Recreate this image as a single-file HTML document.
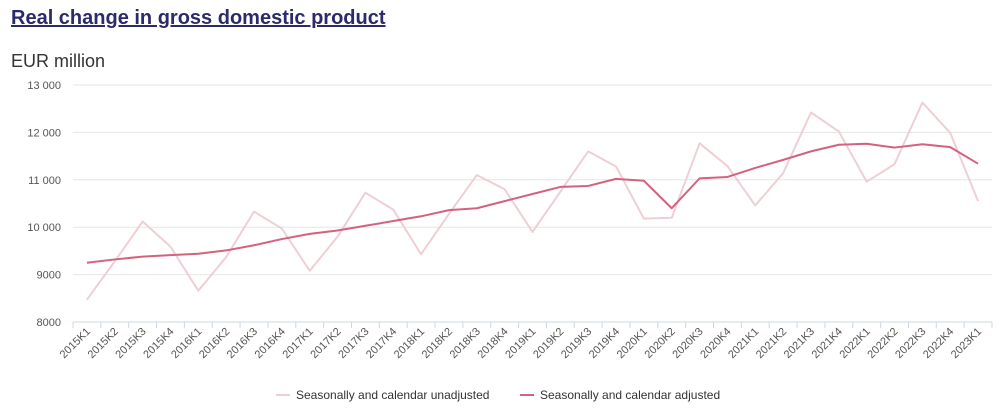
<!DOCTYPE html>
<html><head><meta charset="utf-8"><style>
body{margin:0;background:#fff;font-family:"Liberation Sans",sans-serif;}
#wrap{position:relative;width:1004px;height:417px;overflow:hidden;}
h1{position:absolute;left:11px;top:7px;margin:0;font-size:20px;font-weight:bold;color:#2b2a6b;text-decoration:underline;}
.unit{position:absolute;left:11px;top:51px;font-size:18px;color:#333;}
</style></head><body><div id="wrap">
<h1>Real change in gross domestic product</h1>
<div class="unit">EUR million</div>
<svg id="c" width="1004" height="417" style="position:absolute;left:0;top:0"></svg>
</div>
<script>
const categories=["2015K1","2015K2","2015K3","2015K4","2016K1","2016K2","2016K3","2016K4","2017K1","2017K2","2017K3","2017K4","2018K1","2018K2","2018K3","2018K4","2019K1","2019K2","2019K3","2019K4","2020K1","2020K2","2020K3","2020K4","2021K1","2021K2","2021K3","2021K4","2022K1","2022K2","2022K3","2022K4","2023K1"];
const unadjusted=[8470,9280,10120,9590,8660,9370,10330,9970,9080,9800,10730,10370,9430,10280,11100,10800,9900,10750,11600,11280,10180,10200,11770,11290,10460,11140,12420,12020,10960,11330,12630,11990,10550];
const adjusted=[9250,9320,9380,9410,9440,9510,9620,9750,9860,9930,10030,10130,10230,10360,10400,10550,10700,10850,10870,11020,10980,10400,11030,11060,11250,11420,11600,11740,11760,11680,11750,11690,11340];
const yTicks=[8000,9000,10000,11000,12000,13000];
const yTickLabels=["8000","9000","10 000","11 000","12 000","13 000"];
const svg=document.getElementById('c');const NS="http://www.w3.org/2000/svg";
const L=73,R=992,T=85,B=322,yMin=8000,yMax=13000;
const bw=(R-L)/categories.length;
const x=i=>L+bw*(i+0.5);
const y=v=>B-(v-yMin)/(yMax-yMin)*(B-T);
function mk(t,a){const e=document.createElementNS(NS,t);for(const k in a)e.setAttribute(k,a[k]);svg.appendChild(e);return e;}
yTicks.forEach((v,i)=>{
 const g=mk('line',{x1:L,x2:R,y1:y(v),y2:y(v),stroke:i==0?'#ccd6eb':'#e6e6e6','stroke-width':1});
 
 
 const t=mk('text',{x:L-12,y:y(v)+4,'text-anchor':'end','font-size':11,fill:'#555','font-family':'Liberation Sans, sans-serif'});
 t.textContent=yTickLabels[i];
 
 
});
for(let i=0;i<=categories.length;i++){
 const tk=mk('line',{x1:L+bw*i,x2:L+bw*i,y1:B,y2:B+6,stroke:'#ccd6eb'});
 
 
}
categories.forEach((c,i)=>{
 const t=mk('text',{x:x(i)+4,y:B+10,'text-anchor':'end','font-size':11,fill:'#555','font-family':'Liberation Sans, sans-serif',transform:`rotate(-45 ${x(i)+4} ${B+10})`});
 t.textContent=c;
 
 
});
function line(arr,col,w,name){
 const p=mk('polyline',{points:arr.map((v,i)=>x(i)+','+y(v)).join(' '),fill:'none',stroke:col,'stroke-width':w,'stroke-linejoin':'round'});
 
 
}
line(unadjusted,'#eecfd4',2,'series-unadjusted');
line(adjusted,'#d3617f',2,'series-adjusted');
const leg=[["Seasonally and calendar unadjusted","#eecfd4",276],["Seasonally and calendar adjusted","#d3617f",520]];
leg.forEach(([lab,col,lx])=>{
 const l=mk('line',{x1:lx,x2:lx+14,y1:395,y2:395,stroke:col,'stroke-width':2});
 
 
 const t=mk('text',{x:lx+20,y:399,'font-size':12,fill:'#333','font-family':'Liberation Sans, sans-serif'});
 t.textContent=lab;
 
 
});
</script></body></html>
